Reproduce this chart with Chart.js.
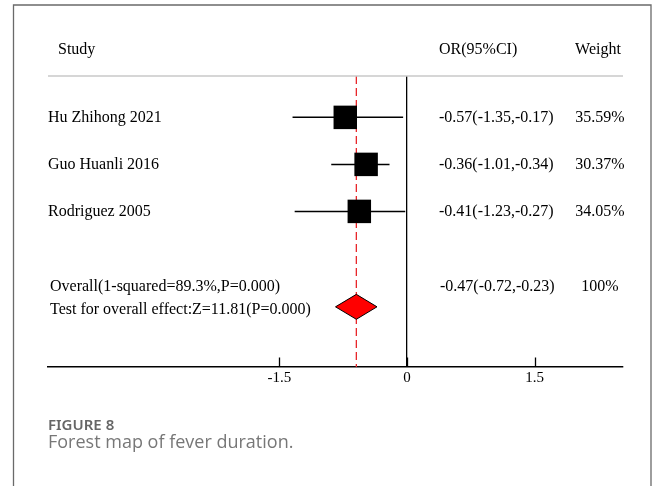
<!DOCTYPE html>
<html lang="en">
<head>
    <meta charset="UTF-8">
    <title>Forest map of fever duration</title>
    <script src="https://cdn.jsdelivr.net/npm/chart.js"></script>
    <style>
        html, body { margin: 0; padding: 0; background: #fff; }
        canvas { display: block; }
    </style>
</head>
<body>
    <canvas id="forest" width="656" height="486"></canvas>

    <script>
        // Studies and the numbers printed in the table columns
        const studies = ['Hu Zhihong 2021', 'Guo Huanli 2016', 'Rodriguez 2005'];
        const orValue = [-0.57, -0.36, -0.41];
        const orLower = [-1.35, -1.01, -1.23];
        const orUpper = [-0.17, -0.34, -0.27];
        const weights = [35.59, 30.37, 34.05];

        // Where the marks sit on the drawn axis
        const plotEst = [-0.725, -0.48, -0.56];
        const plotLower = [-1.345, -0.89, -1.32];
        const plotUpper = [-0.045, -0.205, -0.02];

        // Pooled result
        const overallLabel = 'Overall(1-squared=89.3%,P=0.000)';
        const testLabel = 'Test for overall effect:Z=11.81(P=0.000)';
        const overallOR = [-0.47, -0.72, -0.23];
        const overallWeight = 100;
        const pooledPlot = [-0.595, -0.84, -0.352];

        const xTicks = [-1.5, 0, 1.5];

        // row index of each line of the plot
        const studyRows = [1, 2, 3];
        const overallRow = 4.6;
        const diamondRow = 5.03;
        const testRow = 5.1;
        const headerRow = -0.44;

        const serif = '"Liberation Serif", "Times New Roman", serif';
        const fmt = v => v.toFixed(2);
        const orText = (v, lo, hi) => fmt(v) + '(' + fmt(lo) + ',' + fmt(hi) + ')';

        // CI lines, one small dataset per study
        const ciSets = studies.map((s, i) => ({
            type: 'line',
            data: [{ x: plotLower[i], y: studyRows[i] }, { x: plotUpper[i], y: studyRows[i] }],
            borderColor: '#000',
            borderWidth: 1.5,
            pointRadius: 0,
            order: 3
        }));

        const halfH = 0.265;
        const diamond = {
            type: 'line',
            data: [
                { x: pooledPlot[1], y: diamondRow },
                { x: pooledPlot[0], y: diamondRow - halfH },
                { x: pooledPlot[2], y: diamondRow },
                { x: pooledPlot[0], y: diamondRow + halfH },
                { x: pooledPlot[1], y: diamondRow }
            ],
            borderColor: '#000',
            borderWidth: 1,
            backgroundColor: '#ff0000',
            fill: 'shape',
            pointRadius: 0,
            tension: 0,
            order: 1
        };

        const pooledLine = {
            type: 'line',
            data: [{ x: pooledPlot[0], y: 0.12 }, { x: pooledPlot[0], y: 6.31 }],
            borderColor: '#e8262a',
            borderWidth: 1.3,
            borderDash: [8, 4],
            pointRadius: 0,
            order: 4
        };

        const squares = {
            type: 'scatter',
            data: studies.map((s, i) => ({ x: plotEst[i], y: studyRows[i] })),
            pointStyle: 'rect',
            pointRadius: 16.6,
            backgroundColor: '#000',
            borderColor: '#000',
            borderWidth: 0,
            order: 2
        };

        const tablePlugin = {
            id: 'table',
            beforeDraw(chart) {
                const ctx = chart.ctx;
                ctx.save();
                ctx.fillStyle = '#fff';
                ctx.fillRect(0, 0, chart.width, chart.height);
                // figure frame
                ctx.strokeStyle = '#6a6a6a';
                ctx.lineWidth = 1.3;
                ctx.beginPath();
                ctx.moveTo(13.5, 486);
                ctx.lineTo(13.5, 5);
                ctx.lineTo(651, 5);
                ctx.lineTo(651, 486);
                ctx.stroke();
                ctx.restore();
            },
            afterDraw(chart) {
                const ctx = chart.ctx;
                const x = chart.scales.x, y = chart.scales.y;
                const area = chart.chartArea;
                ctx.save();

                // header separator
                ctx.strokeStyle = '#c8c8c8';
                ctx.lineWidth = 1.5;
                ctx.beginPath();
                ctx.moveTo(area.left, area.top);
                ctx.lineTo(area.right, area.top);
                ctx.stroke();

                // tick marks pointing up
                ctx.strokeStyle = '#000';
                ctx.lineWidth = 1.3;
                xTicks.forEach(t => {
                    const px = Math.round(x.getPixelForValue(t)) + 0.5;
                    ctx.beginPath();
                    ctx.moveTo(px, area.bottom);
                    ctx.lineTo(px, area.bottom - 9.5);
                    ctx.stroke();
                });

                ctx.fillStyle = '#000';
                ctx.font = '16px ' + serif;
                ctx.textBaseline = 'middle';
                const orX = 439, wX = 600;

                // headers
                const hy = y.getPixelForValue(headerRow);
                ctx.textAlign = 'left';
                ctx.fillText('Study', 58, hy);
                ctx.fillText('OR(95%CI)', orX, hy);
                ctx.textAlign = 'center';
                ctx.fillText('Weight', wX - 2, hy);

                // study rows
                studies.forEach((s, i) => {
                    const ry = y.getPixelForValue(studyRows[i]);
                    ctx.textAlign = 'left';
                    ctx.fillText(s, area.left, ry);
                    ctx.fillText(orText(orValue[i], orLower[i], orUpper[i]), orX, ry);
                    ctx.textAlign = 'center';
                    ctx.fillText(weights[i].toFixed(2) + '%', wX, ry);
                });

                // overall rows
                const oy = y.getPixelForValue(overallRow);
                const ty = y.getPixelForValue(testRow);
                ctx.textAlign = 'left';
                ctx.fillText(overallLabel, area.left + 2, oy);
                ctx.fillText(testLabel, area.left + 2, ty);
                ctx.fillText(orText(overallOR[0], overallOR[1], overallOR[2]), orX + 1, oy);
                ctx.textAlign = 'center';
                ctx.fillText(overallWeight + '%', wX, oy);

                // caption
                ctx.textAlign = 'left';
                ctx.textBaseline = 'alphabetic';
                ctx.fillStyle = '#666';
                ctx.font = '600 15px "Noto Sans", "Open Sans", sans-serif';
                ctx.fillText('FIGURE 8', 48, 430);
                ctx.fillStyle = '#777';
                ctx.font = '18px "Open Sans", "Noto Sans", sans-serif';
                ctx.fillText('Forest map of fever duration.', 48, 448);
                ctx.restore();
            }
        };

        const config = {
            data: { datasets: [...ciSets, squares, diamond, pooledLine] },
            options: {
                responsive: false,
                animation: false,
                layout: { padding: { left: 48, right: 33, top: 76, bottom: 0 } },
                plugins: {
                    legend: { display: false },
                    tooltip: { enabled: false }
                },
                scales: {
                    x: {
                        type: 'linear',
                        min: -4.22,
                        max: 2.54,
                        afterBuildTicks: scale => {
                            scale.ticks = xTicks.map(v => ({ value: v }));
                        },
                        afterFit: scale => { scale.height = 119; },
                        grid: {
                            drawTicks: false,
                            color: c => (c.tick && c.tick.value === 0 ? '#000' : 'rgba(0,0,0,0)'),
                            lineWidth: 1.3
                        },
                        border: { display: true, color: '#000', width: 1.5 },
                        ticks: {
                            padding: 2,
                            color: '#000',
                            font: { family: serif, size: 15 },
                            callback: v => String(v)
                        }
                    },
                    y: {
                        type: 'linear',
                        display: false,
                        reverse: true,
                        min: 0.12,
                        max: 6.31
                    }
                }
            },
            plugins: [tablePlugin]
        };

        new Chart(document.getElementById('forest').getContext('2d'), config);
    </script>
</body>
</html>
